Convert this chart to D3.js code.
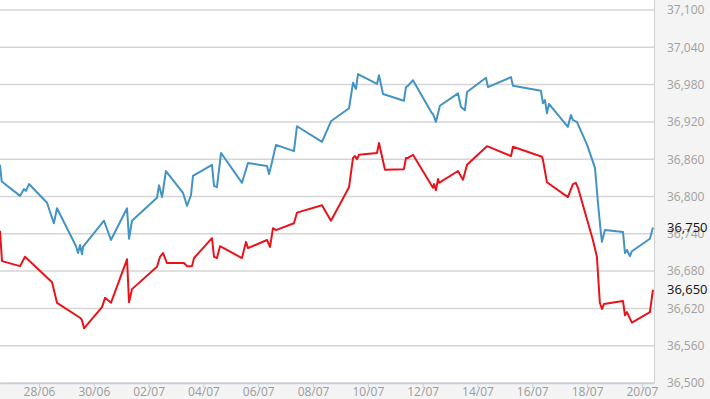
<!DOCTYPE html>
<html>
<head>
<meta charset="utf-8">
<script src="https://cdn.jsdelivr.net/npm/d3@7"></script>
<style>
html,body{margin:0;padding:0;background:#f4f4f4;}
svg{display:block;}
</style>
</head>
<body>
<svg id="chart" width="710" height="399"></svg>
<script>
// ---- data ----
const xDomain = ["26/06 13:50", "20/07 10:35"];
const xTickLabels = ["28/06","30/06","02/07","04/07","06/07","08/07","10/07","12/07","14/07","16/07","18/07","20/07"];
const yTicks = [36500,36560,36620,36680,36740,36800,36860,36920,36980,37040,37100];
const lastLabels = [36750, 36650];

const blueTimes = ["26/06 13:50","26/06 15:20","27/06 07:25","27/06 10:50","27/06 12:36","27/06 15:15","28/06 07:00","28/06 13:00","28/06 15:45","29/06 08:25","29/06 10:10","29/06 11:55","29/06 13:40","29/06 14:30","30/06 08:55","30/06 15:00","01/07 05:05","01/07 06:50","01/07 09:25","02/07 07:20","02/07 09:05","02/07 11:45","02/07 15:10","03/07 06:05","03/07 09:35","03/07 13:05","03/07 14:50","04/07 07:30","04/07 09:15","04/07 11:50","04/07 15:25","05/07 09:45","05/07 15:00","06/07 07:40","06/07 09:25","06/07 12:00","06/07 15:30","07/07 07:15","07/07 09:55","08/07 07:50","08/07 15:40","09/07 07:30","09/07 11:00","09/07 13:35","09/07 15:20","10/07 08:00","10/07 09:45","10/07 13:15","11/07 07:35","11/07 09:20","11/07 11:05","11/07 15:30","12/07 08:05","12/07 09:00","12/07 11:35","12/07 15:05","13/07 06:55","13/07 09:30","13/07 13:00","13/07 14:50","14/07 07:25","14/07 09:10","15/07 05:20","15/07 07:05","16/07 07:35","16/07 09:20","16/07 11:05","16/07 12:50","16/07 14:35","17/07 07:10","17/07 09:50","17/07 11:35","17/07 15:05","18/07 00:00","18/07 06:55","18/07 09:30","18/07 12:05","18/07 13:00","18/07 15:35","19/07 07:25","19/07 09:10","19/07 10:55","19/07 13:30","19/07 15:15","20/07 07:00","20/07 09:40"];
const blueValues = [36851,36824,36801,36812,36809,36820,36790,36757,36781,36720,36709,36722,36707,36719,36761,36730,36781,36732,36761,36798,36818,36799,36841,36806,36785,36802,36833,36851,36817,36815,36870,36822,36854,36849,36836,36855,36883,36873,36913,36888,36921,36942,36983,36973,36997,36981,36995,36965,36954,36976,36978,36987,36934,36933,36920,36946,36966,36944,36939,36968,36991,36976,36992,36978,36970,36950,36955,36934,36949,36912,36931,36923,36920,36883,36846,36790,36741,36727,36746,36743,36709,36714,36704,36712,36732,36750];

const redTimes = ["26/06 13:50","26/06 15:35","27/06 07:25","27/06 11:45","28/06 11:25","28/06 15:45","29/06 11:55","29/06 13:40","29/06 15:25","30/06 07:10","30/06 09:50","30/06 15:00","01/07 05:05","01/07 06:50","01/07 09:25","02/07 07:20","02/07 10:00","02/07 12:35","02/07 16:05","03/07 07:00","03/07 09:35","03/07 14:00","03/07 15:45","04/07 07:30","04/07 09:15","04/07 11:50","04/07 14:30","05/07 09:45","05/07 13:15","05/07 15:00","06/07 07:40","06/07 10:20","06/07 12:55","06/07 15:30","07/07 07:15","07/07 09:55","08/07 07:50","08/07 15:40","09/07 07:30","09/07 11:00","09/07 12:45","09/07 14:30","09/07 16:10","10/07 08:00","10/07 09:45","10/07 15:00","11/07 07:35","11/07 09:20","11/07 11:05","11/07 15:30","12/07 08:05","12/07 09:00","12/07 09:55","12/07 11:35","12/07 13:25","12/07 14:20","13/07 06:55","13/07 11:20","13/07 14:50","14/07 08:20","15/07 05:20","15/07 07:05","16/07 08:30","16/07 09:20","16/07 12:50","17/07 07:10","17/07 11:35","17/07 14:10","17/07 16:00","18/07 05:05","18/07 08:35","18/07 11:10","18/07 13:00","18/07 14:40","19/07 07:25","19/07 09:10","19/07 10:55","19/07 15:15","20/07 07:00","20/07 09:40"];
const redValues = [36745,36696,36688,36703,36662,36629,36605,36601,36588,36622,36637,36629,36699,36630,36651,36687,36703,36709,36693,36693,36688,36688,36701,36733,36703,36701,36720,36701,36727,36717,36730,36719,36749,36746,36757,36774,36786,36761,36815,36862,36865,36860,36867,36870,36886,36843,36844,36862,36862,36867,36817,36814,36820,36810,36828,36822,36841,36827,36851,36881,36865,36880,36864,36859,36823,36799,36820,36822,36814,36730,36703,36629,36619,36627,36632,36609,36614,36597,36614,36650];

// ---- drawing ----
const parse = d3.timeParse("%d/%m %H:%M");
const parseDay = d3.timeParse("%d/%m");
const svg = d3.select("#chart");
const plotW = 654, plotTop = 10, plotBottom = 383;

const x = d3.scaleTime().domain(xDomain.map(parse)).range([0, plotW]);
const y = d3.scaleLinear().domain([36500, 37100]).range([plotBottom, plotTop]);
const fmt = d3.format(",");

// plot background
svg.append("rect").attr("x", 0).attr("y", 0).attr("width", plotW).attr("height", plotBottom).attr("fill", "#ffffff");

// grid lines
svg.append("g").selectAll("line").data(yTicks).join("line")
  .attr("x1", 0).attr("x2", plotW)
  .attr("y1", d => y(d)).attr("y2", d => y(d))
  .attr("stroke", "#d6d6d6").attr("stroke-width", 1.5);

// right border
svg.append("line").attr("x1", plotW + 0.5).attr("x2", plotW + 0.5).attr("y1", 0).attr("y2", plotBottom)
  .attr("stroke", "#cfcfcf").attr("stroke-width", 1);

// x axis
const xAxis = d3.axisBottom(x)
  .tickValues(xTickLabels.map(parseDay))
  .tickFormat(d3.timeFormat("%d/%m"))
  .tickSize(5).tickSizeOuter(0);
const gx = svg.append("g").attr("transform", `translate(0,${plotBottom})`).call(xAxis);
gx.select(".domain").attr("stroke", "#c0d0e0").attr("stroke-width", 1.5);
gx.selectAll(".tick line").attr("stroke", "#c0d0e0");
gx.selectAll(".tick text").attr("fill", "#9a9a9a").attr("font-family", "'Open Sans', sans-serif")
  .attr("font-size", 12).attr("dy", "0.71em").attr("y", 4);

// y labels (right side)
const yAxis = d3.axisRight(y).tickValues(yTicks).tickFormat(fmt).tickSize(0).tickPadding(13);
const gy = svg.append("g").attr("transform", `translate(${plotW},0)`).call(yAxis);
gy.select(".domain").remove();
gy.selectAll(".tick text").attr("fill", "#a0a0a0").attr("font-family", "'Open Sans', sans-serif").attr("font-size", 12);

// lines
const line = d3.line().x(d => x(d[0])).y(d => y(d[1]));
const blue = blueTimes.map((t, i) => [parse(t), blueValues[i]]);
const red = redTimes.map((t, i) => [parse(t), redValues[i]]);

svg.append("path").datum(blue).attr("d", line).attr("fill", "none")
  .attr("stroke", "#4393c3").attr("stroke-width", 2).attr("stroke-linejoin", "round");
svg.append("path").datum(red).attr("d", line).attr("fill", "none")
  .attr("stroke", "#e8141c").attr("stroke-width", 2).attr("stroke-linejoin", "round");

// last value labels
svg.append("g").selectAll("text").data(lastLabels).join("text")
  .attr("x", plotW + 13).attr("y", d => y(d)).attr("dy", "0.35em")
  .attr("fill", "#111").attr("font-family", "'Open Sans', sans-serif").attr("font-size", 13)
  .text(d => fmt(d));
</script>
</body>
</html>
